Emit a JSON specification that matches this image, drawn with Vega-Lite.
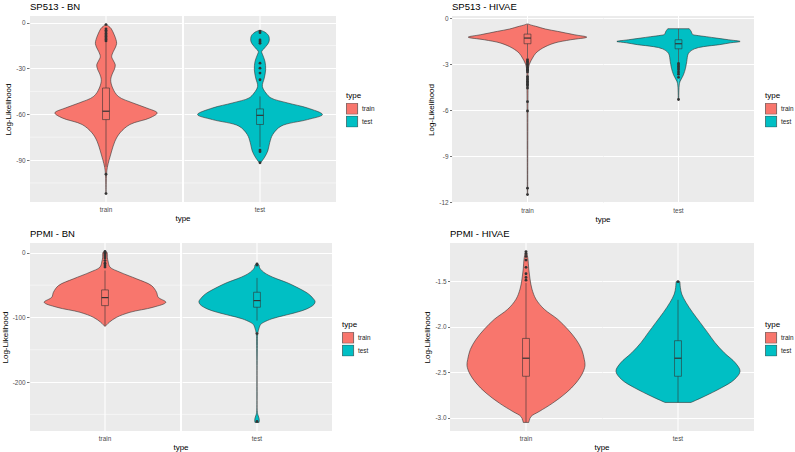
{
"$schema": "https://vega.github.io/schema/vega-lite/v6.json",
"padding": {"left": 1, "top": 1, "right": 2, "bottom": 2},
"background": "white",
"config": {
  "font": "Liberation Sans",
  "view": {"fill": "#EBEBEB", "stroke": null},
  "locale": {"number": {"decimal": ".", "thousands": ",", "grouping": [3], "currency": ["$", ""], "minus": "-"}},
  "axis": {"labelFont": "Liberation Sans", "labelFontSize": 6.4, "labelColor": "#4D4D4D", "labelOverlap": false, "domain": false, "tickSize": 2.5, "tickWidth": 0.7, "tickColor": "#333333", "gridColor": "#FFFFFF", "labelPadding": 1.5, "titleFont": "Liberation Sans", "titleFontSize": 8, "titleFontWeight": "normal", "titleColor": "#000000", "titlePadding": 3},
  "header": {"labelFont": "Liberation Sans", "labelFontSize": 6.4, "labelColor": "#4D4D4D", "labelPadding": 4, "titleFont": "Liberation Sans", "titleFontSize": 8, "titleFontWeight": "normal", "titleColor": "#000000", "titlePadding": -9},
  "legend": {"titleFont": "Liberation Sans", "titleFontSize": 8, "titleFontWeight": "normal", "titleColor": "#000000", "labelFont": "Liberation Sans", "labelFontSize": 6.4, "labelColor": "#1A1A1A", "symbolType": "square", "symbolSize": 125, "symbolStrokeColor": "#333333", "symbolStrokeWidth": 0.6, "symbolOpacity": 1, "clipHeight": 11.5, "rowPadding": 0.8, "labelOffset": 4, "titlePadding": 3},
  "title": {"font": "Liberation Sans", "fontSize": 9.5, "fontWeight": "normal", "anchor": "start", "frame": "group", "offset": 0, "color": "#000000"}
},
"datasets": {"d": [
{"p":"P1","k":"v","type":"train","ll":-1.1,"w":0.002},{"p":"P1","k":"v","type":"train","ll":-2.5,"w":0.022},{"p":"P1","k":"v","type":"train","ll":-3.7,"w":0.036},{"p":"P1","k":"v","type":"train","ll":-6,"w":0.05},{"p":"P1","k":"v","type":"train","ll":-8,"w":0.06},{"p":"P1","k":"v","type":"train","ll":-11,"w":0.072},{"p":"P1","k":"v","type":"train","ll":-13.5,"w":0.077},{"p":"P1","k":"v","type":"train","ll":-16,"w":0.069},{"p":"P1","k":"v","type":"train","ll":-18.9,"w":0.053},{"p":"P1","k":"v","type":"train","ll":-22.2,"w":0.041},{"p":"P1","k":"v","type":"train","ll":-25,"w":0.054},{"p":"P1","k":"v","type":"train","ll":-27.6,"w":0.067},{"p":"P1","k":"v","type":"train","ll":-30.5,"w":0.061},{"p":"P1","k":"v","type":"train","ll":-33,"w":0.048},{"p":"P1","k":"v","type":"train","ll":-37.4,"w":0.034},{"p":"P1","k":"v","type":"train","ll":-42.8,"w":0.048},{"p":"P1","k":"v","type":"train","ll":-48.3,"w":0.089},{"p":"P1","k":"v","type":"train","ll":-52.6,"w":0.195},{"p":"P1","k":"v","type":"train","ll":-55.9,"w":0.294},{"p":"P1","k":"v","type":"train","ll":-59.1,"w":0.37},{"p":"P1","k":"v","type":"train","ll":-62.4,"w":0.317},{"p":"P1","k":"v","type":"train","ll":-66.7,"w":0.173},{"p":"P1","k":"v","type":"train","ll":-72.2,"w":0.101},{"p":"P1","k":"v","type":"train","ll":-77.6,"w":0.065},{"p":"P1","k":"v","type":"train","ll":-84.1,"w":0.041},{"p":"P1","k":"v","type":"train","ll":-89.5,"w":0.024},{"p":"P1","k":"v","type":"train","ll":-95,"w":0.009},{"p":"P1","k":"v","type":"train","ll":-99.3,"w":0.004},{"p":"P1","k":"v","type":"train","ll":-105,"w":0.002},{"p":"P1","k":"v","type":"train","ll":-112,"w":0.001},
{"p":"P1","k":"v","type":"test","ll":-5.2,"w":0.012},{"p":"P1","k":"v","type":"test","ll":-6,"w":0.032},{"p":"P1","k":"v","type":"test","ll":-7,"w":0.048},{"p":"P1","k":"v","type":"test","ll":-8.5,"w":0.062},{"p":"P1","k":"v","type":"test","ll":-10.2,"w":0.067},{"p":"P1","k":"v","type":"test","ll":-12.5,"w":0.065},{"p":"P1","k":"v","type":"test","ll":-14.6,"w":0.051},{"p":"P1","k":"v","type":"test","ll":-17,"w":0.029},{"p":"P1","k":"v","type":"test","ll":-18.9,"w":0.012},{"p":"P1","k":"v","type":"test","ll":-21,"w":0.019},{"p":"P1","k":"v","type":"test","ll":-25.4,"w":0.036},{"p":"P1","k":"v","type":"test","ll":-30.8,"w":0.041},{"p":"P1","k":"v","type":"test","ll":-36.3,"w":0.031},{"p":"P1","k":"v","type":"test","ll":-41.7,"w":0.017},{"p":"P1","k":"v","type":"test","ll":-46.1,"w":0.043},{"p":"P1","k":"v","type":"test","ll":-49.3,"w":0.079},{"p":"P1","k":"v","type":"test","ll":-52.6,"w":0.2},{"p":"P1","k":"v","type":"test","ll":-55.9,"w":0.344},{"p":"P1","k":"v","type":"test","ll":-60.2,"w":0.452},{"p":"P1","k":"v","type":"test","ll":-63.5,"w":0.344},{"p":"P1","k":"v","type":"test","ll":-67.8,"w":0.152},{"p":"P1","k":"v","type":"test","ll":-73.3,"w":0.092},{"p":"P1","k":"v","type":"test","ll":-78.7,"w":0.07},{"p":"P1","k":"v","type":"test","ll":-84.1,"w":0.056},{"p":"P1","k":"v","type":"test","ll":-88.5,"w":0.031},{"p":"P1","k":"v","type":"test","ll":-91.8,"w":0.004},
{"p":"P1","k":"b","type":"train","q1":-63.5,"med":-58,"q3":-42.8,"lo":-94.5,"hi":-13},
{"p":"P1","k":"b","type":"test","q1":-66.7,"med":-60.7,"q3":-56.5,"lo":-81.5,"hi":-48.3},
{"p":"P1","k":"o","type":"train","ll":-1.2},{"p":"P1","k":"o","type":"train","ll":-4},{"p":"P1","k":"o","type":"train","ll":-5},{"p":"P1","k":"o","type":"train","ll":-6},{"p":"P1","k":"o","type":"train","ll":-7},{"p":"P1","k":"o","type":"train","ll":-8},{"p":"P1","k":"o","type":"train","ll":-9},{"p":"P1","k":"o","type":"train","ll":-10},{"p":"P1","k":"o","type":"train","ll":-11},{"p":"P1","k":"o","type":"train","ll":-12},{"p":"P1","k":"o","type":"train","ll":-99.3},{"p":"P1","k":"o","type":"train","ll":-112},
{"p":"P1","k":"o","type":"test","ll":-5.5},{"p":"P1","k":"o","type":"test","ll":-6.5},{"p":"P1","k":"o","type":"test","ll":-11.3},{"p":"P1","k":"o","type":"test","ll":-12.5},{"p":"P1","k":"o","type":"test","ll":-13.5},{"p":"P1","k":"o","type":"test","ll":-26.5},{"p":"P1","k":"o","type":"test","ll":-29.8},{"p":"P1","k":"o","type":"test","ll":-33},{"p":"P1","k":"o","type":"test","ll":-37.4},{"p":"P1","k":"o","type":"test","ll":-83.5},{"p":"P1","k":"o","type":"test","ll":-84.5},{"p":"P1","k":"o","type":"test","ll":-91.8},

{"p":"P2","k":"v","type":"train","ll":-0.37,"w":0.004},{"p":"P2","k":"v","type":"train","ll":-0.45,"w":0.029},{"p":"P2","k":"v","type":"train","ll":-0.52,"w":0.06},{"p":"P2","k":"v","type":"train","ll":-0.7,"w":0.131},{"p":"P2","k":"v","type":"train","ll":-0.85,"w":0.218},{"p":"P2","k":"v","type":"train","ll":-1.07,"w":0.34},{"p":"P2","k":"v","type":"train","ll":-1.23,"w":0.432},{"p":"P2","k":"v","type":"train","ll":-1.4,"w":0.315},{"p":"P2","k":"v","type":"train","ll":-1.62,"w":0.194},{"p":"P2","k":"v","type":"train","ll":-1.95,"w":0.109},{"p":"P2","k":"v","type":"train","ll":-2.28,"w":0.06},{"p":"P2","k":"v","type":"train","ll":-2.6,"w":0.036},{"p":"P2","k":"v","type":"train","ll":-2.93,"w":0.017},{"p":"P2","k":"v","type":"train","ll":-3.26,"w":0.007},{"p":"P2","k":"v","type":"train","ll":-4.57,"w":0.004},{"p":"P2","k":"v","type":"train","ll":-11.52,"w":0.0015},
{"p":"P2","k":"v","type":"test","ll":-0.68,"w":0.078},{"p":"P2","k":"v","type":"test","ll":-0.85,"w":0.092},{"p":"P2","k":"v","type":"test","ll":-1.05,"w":0.102},{"p":"P2","k":"v","type":"test","ll":-1.11,"w":0.129},{"p":"P2","k":"v","type":"test","ll":-1.2,"w":0.204},{"p":"P2","k":"v","type":"test","ll":-1.29,"w":0.275},{"p":"P2","k":"v","type":"test","ll":-1.4,"w":0.364},{"p":"P2","k":"v","type":"test","ll":-1.51,"w":0.449},{"p":"P2","k":"v","type":"test","ll":-1.6,"w":0.379},{"p":"P2","k":"v","type":"test","ll":-1.72,"w":0.299},{"p":"P2","k":"v","type":"test","ll":-1.85,"w":0.182},{"p":"P2","k":"v","type":"test","ll":-1.99,"w":0.117},{"p":"P2","k":"v","type":"test","ll":-2.28,"w":0.073},{"p":"P2","k":"v","type":"test","ll":-2.82,"w":0.06},{"p":"P2","k":"v","type":"test","ll":-3.26,"w":0.051},{"p":"P2","k":"v","type":"test","ll":-3.69,"w":0.036},{"p":"P2","k":"v","type":"test","ll":-4.02,"w":0.017},{"p":"P2","k":"v","type":"test","ll":-4.24,"w":0.007},{"p":"P2","k":"v","type":"test","ll":-5.33,"w":0.002},
{"p":"P2","k":"b","type":"train","q1":-1.66,"med":-1.29,"q3":-1.03,"lo":-2.6,"hi":-0.4},
{"p":"P2","k":"b","type":"test","q1":-1.99,"med":-1.66,"q3":-1.4,"lo":-2.85,"hi":-0.68},
{"p":"P2","k":"o","type":"train","ll":-2.7},{"p":"P2","k":"o","type":"train","ll":-2.8},{"p":"P2","k":"o","type":"train","ll":-2.9},{"p":"P2","k":"o","type":"train","ll":-3.0},{"p":"P2","k":"o","type":"train","ll":-3.1},{"p":"P2","k":"o","type":"train","ll":-3.2},{"p":"P2","k":"o","type":"train","ll":-3.3},{"p":"P2","k":"o","type":"train","ll":-3.35},{"p":"P2","k":"o","type":"train","ll":-3.4},{"p":"P2","k":"o","type":"train","ll":-3.5},{"p":"P2","k":"o","type":"train","ll":-3.8},{"p":"P2","k":"o","type":"train","ll":-3.9},{"p":"P2","k":"o","type":"train","ll":-4.0},{"p":"P2","k":"o","type":"train","ll":-4.1},{"p":"P2","k":"o","type":"train","ll":-4.2},{"p":"P2","k":"o","type":"train","ll":-4.3},{"p":"P2","k":"o","type":"train","ll":-4.4},{"p":"P2","k":"o","type":"train","ll":-4.55},{"p":"P2","k":"o","type":"train","ll":-5.44},{"p":"P2","k":"o","type":"train","ll":-6.05},{"p":"P2","k":"o","type":"train","ll":-11.08},{"p":"P2","k":"o","type":"train","ll":-11.5},
{"p":"P2","k":"o","type":"test","ll":-2.95},{"p":"P2","k":"o","type":"test","ll":-3.05},{"p":"P2","k":"o","type":"test","ll":-3.15},{"p":"P2","k":"o","type":"test","ll":-3.25},{"p":"P2","k":"o","type":"test","ll":-3.35},{"p":"P2","k":"o","type":"test","ll":-3.5},{"p":"P2","k":"o","type":"test","ll":-3.65},{"p":"P2","k":"o","type":"test","ll":-3.85},{"p":"P2","k":"o","type":"test","ll":-5.3},

{"p":"P3","k":"v","type":"train","ll":2,"w":0.007},{"p":"P3","k":"v","type":"train","ll":0,"w":0.016},{"p":"P3","k":"v","type":"train","ll":-6.7,"w":0.017},{"p":"P3","k":"v","type":"train","ll":-14.5,"w":0.024},{"p":"P3","k":"v","type":"train","ll":-22.2,"w":0.037},{"p":"P3","k":"v","type":"train","ll":-30,"w":0.11},{"p":"P3","k":"v","type":"train","ll":-40.3,"w":0.232},{"p":"P3","k":"v","type":"train","ll":-50.7,"w":0.341},{"p":"P3","k":"v","type":"train","ll":-61,"w":0.378},{"p":"P3","k":"v","type":"train","ll":-68.7,"w":0.39},{"p":"P3","k":"v","type":"train","ll":-76.5,"w":0.446},{"p":"P3","k":"v","type":"train","ll":-84.2,"w":0.353},{"p":"P3","k":"v","type":"train","ll":-92,"w":0.183},{"p":"P3","k":"v","type":"train","ll":-99.7,"w":0.086},{"p":"P3","k":"v","type":"train","ll":-107.5,"w":0.031},{"p":"P3","k":"v","type":"train","ll":-113.7,"w":0.002},
{"p":"P3","k":"v","type":"test","ll":-17,"w":0.004},{"p":"P3","k":"v","type":"test","ll":-19,"w":0.015},{"p":"P3","k":"v","type":"test","ll":-22.2,"w":0.017},{"p":"P3","k":"v","type":"test","ll":-26,"w":0.029},{"p":"P3","k":"v","type":"test","ll":-30,"w":0.049},{"p":"P3","k":"v","type":"test","ll":-35,"w":0.088},{"p":"P3","k":"v","type":"test","ll":-40.3,"w":0.146},{"p":"P3","k":"v","type":"test","ll":-46,"w":0.219},{"p":"P3","k":"v","type":"test","ll":-53.3,"w":0.292},{"p":"P3","k":"v","type":"test","ll":-63.6,"w":0.378},{"p":"P3","k":"v","type":"test","ll":-70,"w":0.409},{"p":"P3","k":"v","type":"test","ll":-75.5,"w":0.426},{"p":"P3","k":"v","type":"test","ll":-80,"w":0.417},{"p":"P3","k":"v","type":"test","ll":-86.8,"w":0.365},{"p":"P3","k":"v","type":"test","ll":-92,"w":0.292},{"p":"P3","k":"v","type":"test","ll":-97.2,"w":0.195},{"p":"P3","k":"v","type":"test","ll":-102,"w":0.11},{"p":"P3","k":"v","type":"test","ll":-107.5,"w":0.049},{"p":"P3","k":"v","type":"test","ll":-111,"w":0.026},{"p":"P3","k":"v","type":"test","ll":-115.2,"w":0.017},{"p":"P3","k":"v","type":"test","ll":-120,"w":0.01},{"p":"P3","k":"v","type":"test","ll":-125.6,"w":0.005},{"p":"P3","k":"v","type":"test","ll":-143.7,"w":0.003},{"p":"P3","k":"v","type":"test","ll":-247,"w":0.003},{"p":"P3","k":"v","type":"test","ll":-252,"w":0.009},{"p":"P3","k":"v","type":"test","ll":-256,"w":0.015},{"p":"P3","k":"v","type":"test","ll":-260,"w":0.017},{"p":"P3","k":"v","type":"test","ll":-262.5,"w":0.015},
{"p":"P3","k":"b","type":"train","q1":-81.7,"med":-69.3,"q3":-57.4,"lo":-113,"hi":-27.4},
{"p":"P3","k":"b","type":"test","q1":-84.2,"med":-73.9,"q3":-61,"lo":-104.9,"hi":-38.8},
{"p":"P3","k":"o","type":"train","ll":2},{"p":"P3","k":"o","type":"train","ll":0.5},{"p":"P3","k":"o","type":"train","ll":-1},{"p":"P3","k":"o","type":"train","ll":-3},{"p":"P3","k":"o","type":"train","ll":-5},{"p":"P3","k":"o","type":"train","ll":-8},{"p":"P3","k":"o","type":"train","ll":-12},{"p":"P3","k":"o","type":"train","ll":-16},{"p":"P3","k":"o","type":"train","ll":-19},{"p":"P3","k":"o","type":"train","ll":-22},
{"p":"P3","k":"o","type":"test","ll":-17},{"p":"P3","k":"o","type":"test","ll":-19},{"p":"P3","k":"o","type":"test","ll":-125},{"p":"P3","k":"o","type":"test","ll":-261},

{"p":"P4","k":"v","type":"train","ll":-1.177,"w":0.004},{"p":"P4","k":"v","type":"train","ll":-1.257,"w":0.014},{"p":"P4","k":"v","type":"train","ll":-1.368,"w":0.02},{"p":"P4","k":"v","type":"train","ll":-1.478,"w":0.029},{"p":"P4","k":"v","type":"train","ll":-1.588,"w":0.043},{"p":"P4","k":"v","type":"train","ll":-1.699,"w":0.072},{"p":"P4","k":"v","type":"train","ll":-1.809,"w":0.132},{"p":"P4","k":"v","type":"train","ll":-1.919,"w":0.229},{"p":"P4","k":"v","type":"train","ll":-2.029,"w":0.302},{"p":"P4","k":"v","type":"train","ll":-2.14,"w":0.362},{"p":"P4","k":"v","type":"train","ll":-2.25,"w":0.403},{"p":"P4","k":"v","type":"train","ll":-2.36,"w":0.422},{"p":"P4","k":"v","type":"train","ll":-2.426,"w":0.427},{"p":"P4","k":"v","type":"train","ll":-2.507,"w":0.41},{"p":"P4","k":"v","type":"train","ll":-2.617,"w":0.362},{"p":"P4","k":"v","type":"train","ll":-2.728,"w":0.289},{"p":"P4","k":"v","type":"train","ll":-2.838,"w":0.193},{"p":"P4","k":"v","type":"train","ll":-2.93,"w":0.096},{"p":"P4","k":"v","type":"train","ll":-2.986,"w":0.036},{"p":"P4","k":"v","type":"train","ll":-3.05,"w":0.02},
{"p":"P4","k":"v","type":"test","ll":-1.507,"w":0.014},{"p":"P4","k":"v","type":"test","ll":-1.57,"w":0.017},{"p":"P4","k":"v","type":"test","ll":-1.643,"w":0.027},{"p":"P4","k":"v","type":"test","ll":-1.735,"w":0.058},{"p":"P4","k":"v","type":"test","ll":-1.845,"w":0.106},{"p":"P4","k":"v","type":"test","ll":-1.956,"w":0.161},{"p":"P4","k":"v","type":"test","ll":-2.066,"w":0.215},{"p":"P4","k":"v","type":"test","ll":-2.176,"w":0.268},{"p":"P4","k":"v","type":"test","ll":-2.287,"w":0.335},{"p":"P4","k":"v","type":"test","ll":-2.397,"w":0.415},{"p":"P4","k":"v","type":"test","ll":-2.489,"w":0.449},{"p":"P4","k":"v","type":"test","ll":-2.581,"w":0.407},{"p":"P4","k":"v","type":"test","ll":-2.673,"w":0.311},{"p":"P4","k":"v","type":"test","ll":-2.765,"w":0.19},{"p":"P4","k":"v","type":"test","ll":-2.831,"w":0.094},
{"p":"P4","k":"b","type":"train","q1":-2.544,"med":-2.346,"q3":-2.129,"lo":-3.05,"hi":-1.52},
{"p":"P4","k":"b","type":"test","q1":-2.544,"med":-2.346,"q3":-2.154,"lo":-2.831,"hi":-1.706},
{"p":"P4","k":"o","type":"train","ll":-1.177},{"p":"P4","k":"o","type":"train","ll":-1.2},{"p":"P4","k":"o","type":"train","ll":-1.23},{"p":"P4","k":"o","type":"train","ll":-1.27},{"p":"P4","k":"o","type":"train","ll":-1.35},{"p":"P4","k":"o","type":"train","ll":-1.42},{"p":"P4","k":"o","type":"train","ll":-1.46},{"p":"P4","k":"o","type":"train","ll":-1.49},
{"p":"P4","k":"o","type":"test","ll":-1.507}
]},
"spacing": 4,
"resolve": {"scale": {"y": "independent"}, "legend": {"fill": "independent"}},
"vconcat": [
{"hconcat": [
{"data": {"name": "d"}, "transform": [{"filter": "datum.p == 'P1'"}],
 "title": {"text": "SP513 - BN"},
 "facet": {"column": {"field": "type", "type": "nominal", "sort": ["train", "test"], "title": "type", "header": {"labelOrient": "bottom", "titleOrient": "bottom"}}},
 "spacing": {"column": 0},
 "spec": {"width": 152, "height": 186,
  "resolve": {"scale": {"x": "independent"}},
  "layer": [
   {"transform": [{"filter": "datum.k == 'b'"}], "mark": {"type": "rule", "stroke": "#FFFFFF", "strokeWidth": 1.1},
    "encoding": {"x": {"datum": 0, "type": "quantitative", "scale": {"domain": [-0.55, 0.55], "nice": false, "zero": false}, "axis": null}}},
   {"transform": [{"filter": "datum.k == 'b'"}], "mark": {"type": "rule", "stroke": "#FFFFFF", "strokeWidth": 0.5}, "encoding": {"y": {"datum": -105, "type": "quantitative", "title": "Log-Likelihood"}, "x": {"datum": -0.55, "type": "quantitative", "scale": {"domain": [-0.55, 0.55], "nice": false, "zero": false}, "axis": null}, "x2": {"datum": 0.55}}},
   {"transform": [{"filter": "datum.k == 'b'"}], "mark": {"type": "rule", "stroke": "#FFFFFF", "strokeWidth": 0.5}, "encoding": {"y": {"datum": -75, "type": "quantitative", "title": "Log-Likelihood"}, "x": {"datum": -0.55, "type": "quantitative", "scale": {"domain": [-0.55, 0.55], "nice": false, "zero": false}, "axis": null}, "x2": {"datum": 0.55}}},
   {"transform": [{"filter": "datum.k == 'b'"}], "mark": {"type": "rule", "stroke": "#FFFFFF", "strokeWidth": 0.5}, "encoding": {"y": {"datum": -45, "type": "quantitative", "title": "Log-Likelihood"}, "x": {"datum": -0.55, "type": "quantitative", "scale": {"domain": [-0.55, 0.55], "nice": false, "zero": false}, "axis": null}, "x2": {"datum": 0.55}}},
   {"transform": [{"filter": "datum.k == 'b'"}], "mark": {"type": "rule", "stroke": "#FFFFFF", "strokeWidth": 0.5}, "encoding": {"y": {"datum": -15, "type": "quantitative", "title": "Log-Likelihood"}, "x": {"datum": -0.55, "type": "quantitative", "scale": {"domain": [-0.55, 0.55], "nice": false, "zero": false}, "axis": null}, "x2": {"datum": 0.55}}},
   {"transform": [{"filter": "datum.k == 'v'"}], "mark": {"type": "area", "orient": "horizontal", "interpolate": "catmull-rom"},
    "encoding": {"y": {"field": "ll", "type": "quantitative", "title": "Log-Likelihood", "scale": {"domain": [-117.5, 4.4], "nice": false, "zero": false},
      "axis": {"values": [-90, -60, -30, 0], "format": "d", "grid": true, "gridWidth": 1.1}},
     "x": {"field": "w", "type": "quantitative", "scale": {"domain": [-0.55, 0.55], "nice": false, "zero": false}, "axis": null},
     "x2": {"datum": 0},
     "fill": {"field": "type", "type": "nominal", "title": "type", "scale": {"domain": ["train", "test"], "range": ["#F8766D", "#00BFC4"]}, "legend": {"orient": "none", "legendX": 316, "legendY": 76}}}},
   {"transform": [{"filter": "datum.k == 'v'"}], "mark": {"type": "area", "orient": "horizontal", "interpolate": "catmull-rom"},
    "encoding": {"y": {"field": "ll", "type": "quantitative", "title": "Log-Likelihood"},
     "x": {"field": "w", "type": "quantitative", "scale": {"domain": [-0.55, 0.55], "nice": false, "zero": false, "reverse": true}, "axis": null},
     "x2": {"datum": 0},
     "fill": {"field": "type", "type": "nominal", "title": "type"}}},
   {"transform": [{"filter": "datum.k == 'v'"}], "mark": {"type": "line", "interpolate": "catmull-rom", "stroke": "#333333", "strokeWidth": 0.6},
    "encoding": {"y": {"field": "ll", "type": "quantitative", "title": "Log-Likelihood"},
     "x": {"field": "w", "type": "quantitative", "scale": {"domain": [-0.55, 0.55], "nice": false, "zero": false}, "axis": null},
     "order": {"field": "ll", "type": "quantitative"}}},
   {"transform": [{"filter": "datum.k == 'v'"}], "mark": {"type": "line", "interpolate": "catmull-rom", "stroke": "#333333", "strokeWidth": 0.6},
    "encoding": {"y": {"field": "ll", "type": "quantitative", "title": "Log-Likelihood"},
     "x": {"field": "w", "type": "quantitative", "scale": {"domain": [-0.55, 0.55], "nice": false, "zero": false, "reverse": true}, "axis": null},
     "order": {"field": "ll", "type": "quantitative"}}},
   {"transform": [{"filter": "datum.k == 'v'"}, {"joinaggregate": [{"op": "min", "field": "ll", "as": "mn"}, {"op": "max", "field": "ll", "as": "mx"}], "groupby": ["type"]}, {"filter": "datum.ll == datum.mn || datum.ll == datum.mx"}],
    "mark": {"type": "rule", "stroke": "#333333", "strokeWidth": 0.6},
    "encoding": {"y": {"field": "ll", "type": "quantitative", "title": "Log-Likelihood"},
     "x": {"field": "w", "type": "quantitative", "scale": {"domain": [-0.55, 0.55], "nice": false, "zero": false}, "axis": null}, "x2": {"datum": 0}}},
   {"transform": [{"filter": "datum.k == 'v'"}, {"joinaggregate": [{"op": "min", "field": "ll", "as": "mn"}, {"op": "max", "field": "ll", "as": "mx"}], "groupby": ["type"]}, {"filter": "datum.ll == datum.mn || datum.ll == datum.mx"}],
    "mark": {"type": "rule", "stroke": "#333333", "strokeWidth": 0.6},
    "encoding": {"y": {"field": "ll", "type": "quantitative", "title": "Log-Likelihood"},
     "x": {"field": "w", "type": "quantitative", "scale": {"domain": [-0.55, 0.55], "nice": false, "zero": false, "reverse": true}, "axis": null}, "x2": {"datum": 0}}},
   {"transform": [{"filter": "datum.k == 'b'"}], "mark": {"type": "rule", "stroke": "#333333", "strokeWidth": 0.6},
    "encoding": {"y": {"field": "lo", "type": "quantitative", "title": "Log-Likelihood"}, "y2": {"field": "hi"},
     "x": {"datum": 0, "type": "quantitative", "scale": {"domain": [-0.55, 0.55], "nice": false, "zero": false}, "axis": null}}},
   {"transform": [{"filter": "datum.k == 'b'"}], "mark": {"type": "rect", "stroke": "#333333", "strokeWidth": 0.6},
    "encoding": {"y": {"field": "q1", "type": "quantitative", "title": "Log-Likelihood"}, "y2": {"field": "q3"},
     "x": {"datum": -0.025, "type": "quantitative", "scale": {"domain": [-0.55, 0.55], "nice": false, "zero": false}, "axis": null}, "x2": {"datum": 0.025},
     "fill": {"field": "type", "type": "nominal", "title": "type"}}},
   {"transform": [{"filter": "datum.k == 'b'"}], "mark": {"type": "rule", "stroke": "#333333", "strokeWidth": 1.2},
    "encoding": {"y": {"field": "med", "type": "quantitative", "title": "Log-Likelihood"},
     "x": {"datum": -0.025, "type": "quantitative", "scale": {"domain": [-0.55, 0.55], "nice": false, "zero": false}, "axis": null}, "x2": {"datum": 0.025}}},
   {"transform": [{"filter": "datum.k == 'o'"}], "mark": {"type": "circle", "size": 8, "color": "#333333", "opacity": 1},
    "encoding": {"y": {"field": "ll", "type": "quantitative", "title": "Log-Likelihood"},
     "x": {"datum": 0, "type": "quantitative", "scale": {"domain": [-0.55, 0.55], "nice": false, "zero": false}, "axis": null}}}
  ]}},
{"data": {"name": "d"}, "transform": [{"filter": "datum.p == 'P2'"}],
 "title": {"text": "SP513 - HIVAE"},
 "facet": {"column": {"field": "type", "type": "nominal", "sort": ["train", "test"], "title": "type", "header": {"labelOrient": "bottom", "titleOrient": "bottom"}}},
 "spacing": {"column": 0},
 "spec": {"width": 151, "height": 187,
  "resolve": {"scale": {"x": "independent"}},
  "layer": [
   {"transform": [{"filter": "datum.k == 'b'"}], "mark": {"type": "rule", "stroke": "#FFFFFF", "strokeWidth": 1.1},
    "encoding": {"x": {"datum": 0, "type": "quantitative", "scale": {"domain": [-0.55, 0.55], "nice": false, "zero": false}, "axis": null}}},
   {"transform": [{"filter": "datum.k == 'v'"}], "mark": {"type": "area", "orient": "horizontal", "interpolate": "catmull-rom"},
    "encoding": {"y": {"field": "ll", "type": "quantitative", "title": "Log-Likelihood", "scale": {"domain": [-12.05, 0.15], "nice": false, "zero": false},
      "axis": {"values": [-12, -10.5, -9, -7.5, -6, -4.5, -3, -1.5, 0], "grid": true, "labelExpr": "indexof([0, -3, -6, -9, -12], datum.value) >= 0 ? format(datum.value, 'd') : ''", "gridWidth": {"condition": {"test": "indexof([0, -3, -6, -9, -12], datum.value) >= 0", "value": 1.1}, "value": 0.5}, "tickOpacity": {"condition": {"test": "indexof([0, -3, -6, -9, -12], datum.value) >= 0", "value": 1}, "value": 0}}},
     "x": {"field": "w", "type": "quantitative", "scale": {"domain": [-0.55, 0.55], "nice": false, "zero": false}, "axis": null},
     "x2": {"datum": 0},
     "fill": {"field": "type", "type": "nominal", "title": "type", "scale": {"domain": ["train", "test"], "range": ["#F8766D", "#00BFC4"]}, "legend": {"orient": "none", "legendX": 313, "legendY": 76}}}},
   {"transform": [{"filter": "datum.k == 'v'"}], "mark": {"type": "area", "orient": "horizontal", "interpolate": "catmull-rom"},
    "encoding": {"y": {"field": "ll", "type": "quantitative", "title": "Log-Likelihood"},
     "x": {"field": "w", "type": "quantitative", "scale": {"domain": [-0.55, 0.55], "nice": false, "zero": false, "reverse": true}, "axis": null},
     "x2": {"datum": 0},
     "fill": {"field": "type", "type": "nominal", "title": "type"}}},
   {"transform": [{"filter": "datum.k == 'v'"}], "mark": {"type": "line", "interpolate": "catmull-rom", "stroke": "#333333", "strokeWidth": 0.6},
    "encoding": {"y": {"field": "ll", "type": "quantitative", "title": "Log-Likelihood"},
     "x": {"field": "w", "type": "quantitative", "scale": {"domain": [-0.55, 0.55], "nice": false, "zero": false}, "axis": null},
     "order": {"field": "ll", "type": "quantitative"}}},
   {"transform": [{"filter": "datum.k == 'v'"}], "mark": {"type": "line", "interpolate": "catmull-rom", "stroke": "#333333", "strokeWidth": 0.6},
    "encoding": {"y": {"field": "ll", "type": "quantitative", "title": "Log-Likelihood"},
     "x": {"field": "w", "type": "quantitative", "scale": {"domain": [-0.55, 0.55], "nice": false, "zero": false, "reverse": true}, "axis": null},
     "order": {"field": "ll", "type": "quantitative"}}},
   {"transform": [{"filter": "datum.k == 'v'"}, {"joinaggregate": [{"op": "min", "field": "ll", "as": "mn"}, {"op": "max", "field": "ll", "as": "mx"}], "groupby": ["type"]}, {"filter": "datum.ll == datum.mn || datum.ll == datum.mx"}],
    "mark": {"type": "rule", "stroke": "#333333", "strokeWidth": 0.6},
    "encoding": {"y": {"field": "ll", "type": "quantitative", "title": "Log-Likelihood"},
     "x": {"field": "w", "type": "quantitative", "scale": {"domain": [-0.55, 0.55], "nice": false, "zero": false}, "axis": null}, "x2": {"datum": 0}}},
   {"transform": [{"filter": "datum.k == 'v'"}, {"joinaggregate": [{"op": "min", "field": "ll", "as": "mn"}, {"op": "max", "field": "ll", "as": "mx"}], "groupby": ["type"]}, {"filter": "datum.ll == datum.mn || datum.ll == datum.mx"}],
    "mark": {"type": "rule", "stroke": "#333333", "strokeWidth": 0.6},
    "encoding": {"y": {"field": "ll", "type": "quantitative", "title": "Log-Likelihood"},
     "x": {"field": "w", "type": "quantitative", "scale": {"domain": [-0.55, 0.55], "nice": false, "zero": false, "reverse": true}, "axis": null}, "x2": {"datum": 0}}},
   {"transform": [{"filter": "datum.k == 'b'"}], "mark": {"type": "rule", "stroke": "#333333", "strokeWidth": 0.6},
    "encoding": {"y": {"field": "lo", "type": "quantitative", "title": "Log-Likelihood"}, "y2": {"field": "hi"},
     "x": {"datum": 0, "type": "quantitative", "scale": {"domain": [-0.55, 0.55], "nice": false, "zero": false}, "axis": null}}},
   {"transform": [{"filter": "datum.k == 'b'"}], "mark": {"type": "rect", "stroke": "#333333", "strokeWidth": 0.6},
    "encoding": {"y": {"field": "q1", "type": "quantitative", "title": "Log-Likelihood"}, "y2": {"field": "q3"},
     "x": {"datum": -0.025, "type": "quantitative", "scale": {"domain": [-0.55, 0.55], "nice": false, "zero": false}, "axis": null}, "x2": {"datum": 0.025},
     "fill": {"field": "type", "type": "nominal", "title": "type"}}},
   {"transform": [{"filter": "datum.k == 'b'"}], "mark": {"type": "rule", "stroke": "#333333", "strokeWidth": 1.2},
    "encoding": {"y": {"field": "med", "type": "quantitative", "title": "Log-Likelihood"},
     "x": {"datum": -0.025, "type": "quantitative", "scale": {"domain": [-0.55, 0.55], "nice": false, "zero": false}, "axis": null}, "x2": {"datum": 0.025}}},
   {"transform": [{"filter": "datum.k == 'o'"}], "mark": {"type": "circle", "size": 8, "color": "#333333", "opacity": 1},
    "encoding": {"y": {"field": "ll", "type": "quantitative", "title": "Log-Likelihood"},
     "x": {"datum": 0, "type": "quantitative", "scale": {"domain": [-0.55, 0.55], "nice": false, "zero": false}, "axis": null}}}
  ]}}
], "spacing": 52, "resolve": {"scale": {"y": "independent"}, "legend": {"fill": "independent"}}},
{"hconcat": [
{"data": {"name": "d"}, "transform": [{"filter": "datum.p == 'P3'"}],
 "title": {"text": "PPMI - BN"},
 "facet": {"column": {"field": "type", "type": "nominal", "sort": ["train", "test"], "title": "type", "header": {"labelOrient": "bottom", "titleOrient": "bottom"}}},
 "spacing": {"column": 0},
 "spec": {"width": 150, "height": 188,
  "resolve": {"scale": {"x": "independent"}},
  "layer": [
   {"transform": [{"filter": "datum.k == 'b'"}], "mark": {"type": "rule", "stroke": "#FFFFFF", "strokeWidth": 1.1},
    "encoding": {"x": {"datum": 0, "type": "quantitative", "scale": {"domain": [-0.55, 0.55], "nice": false, "zero": false}, "axis": null}}},
   {"transform": [{"filter": "datum.k == 'b'"}], "mark": {"type": "rule", "stroke": "#FFFFFF", "strokeWidth": 0.5}, "encoding": {"y": {"datum": -250, "type": "quantitative", "title": "Log-Likelihood"}, "x": {"datum": -0.55, "type": "quantitative", "scale": {"domain": [-0.55, 0.55], "nice": false, "zero": false}, "axis": null}, "x2": {"datum": 0.55}}},
   {"transform": [{"filter": "datum.k == 'b'"}], "mark": {"type": "rule", "stroke": "#FFFFFF", "strokeWidth": 0.5}, "encoding": {"y": {"datum": -150, "type": "quantitative", "title": "Log-Likelihood"}, "x": {"datum": -0.55, "type": "quantitative", "scale": {"domain": [-0.55, 0.55], "nice": false, "zero": false}, "axis": null}, "x2": {"datum": 0.55}}},
   {"transform": [{"filter": "datum.k == 'b'"}], "mark": {"type": "rule", "stroke": "#FFFFFF", "strokeWidth": 0.5}, "encoding": {"y": {"datum": -50, "type": "quantitative", "title": "Log-Likelihood"}, "x": {"datum": -0.55, "type": "quantitative", "scale": {"domain": [-0.55, 0.55], "nice": false, "zero": false}, "axis": null}, "x2": {"datum": 0.55}}},
   {"transform": [{"filter": "datum.k == 'v'"}], "mark": {"type": "area", "orient": "horizontal", "interpolate": "catmull-rom"},
    "encoding": {"y": {"field": "ll", "type": "quantitative", "title": "Log-Likelihood", "scale": {"domain": [-275.7, 15.2], "nice": false, "zero": false},
      "axis": {"values": [-200, -100, 0], "format": "d", "grid": true, "gridWidth": 1.1}},
     "x": {"field": "w", "type": "quantitative", "scale": {"domain": [-0.55, 0.55], "nice": false, "zero": false}, "axis": null},
     "x2": {"datum": 0},
     "fill": {"field": "type", "type": "nominal", "title": "type", "scale": {"domain": ["train", "test"], "range": ["#F8766D", "#00BFC4"]}, "legend": {"orient": "none", "legendX": 312, "legendY": 78}}}},
   {"transform": [{"filter": "datum.k == 'v'"}], "mark": {"type": "area", "orient": "horizontal", "interpolate": "catmull-rom"},
    "encoding": {"y": {"field": "ll", "type": "quantitative", "title": "Log-Likelihood"},
     "x": {"field": "w", "type": "quantitative", "scale": {"domain": [-0.55, 0.55], "nice": false, "zero": false, "reverse": true}, "axis": null},
     "x2": {"datum": 0},
     "fill": {"field": "type", "type": "nominal", "title": "type"}}},
   {"transform": [{"filter": "datum.k == 'v'"}], "mark": {"type": "line", "interpolate": "catmull-rom", "stroke": "#333333", "strokeWidth": 0.6},
    "encoding": {"y": {"field": "ll", "type": "quantitative", "title": "Log-Likelihood"},
     "x": {"field": "w", "type": "quantitative", "scale": {"domain": [-0.55, 0.55], "nice": false, "zero": false}, "axis": null},
     "order": {"field": "ll", "type": "quantitative"}}},
   {"transform": [{"filter": "datum.k == 'v'"}], "mark": {"type": "line", "interpolate": "catmull-rom", "stroke": "#333333", "strokeWidth": 0.6},
    "encoding": {"y": {"field": "ll", "type": "quantitative", "title": "Log-Likelihood"},
     "x": {"field": "w", "type": "quantitative", "scale": {"domain": [-0.55, 0.55], "nice": false, "zero": false, "reverse": true}, "axis": null},
     "order": {"field": "ll", "type": "quantitative"}}},
   {"transform": [{"filter": "datum.k == 'v'"}, {"joinaggregate": [{"op": "min", "field": "ll", "as": "mn"}, {"op": "max", "field": "ll", "as": "mx"}], "groupby": ["type"]}, {"filter": "datum.ll == datum.mn || datum.ll == datum.mx"}],
    "mark": {"type": "rule", "stroke": "#333333", "strokeWidth": 0.6},
    "encoding": {"y": {"field": "ll", "type": "quantitative", "title": "Log-Likelihood"},
     "x": {"field": "w", "type": "quantitative", "scale": {"domain": [-0.55, 0.55], "nice": false, "zero": false}, "axis": null}, "x2": {"datum": 0}}},
   {"transform": [{"filter": "datum.k == 'v'"}, {"joinaggregate": [{"op": "min", "field": "ll", "as": "mn"}, {"op": "max", "field": "ll", "as": "mx"}], "groupby": ["type"]}, {"filter": "datum.ll == datum.mn || datum.ll == datum.mx"}],
    "mark": {"type": "rule", "stroke": "#333333", "strokeWidth": 0.6},
    "encoding": {"y": {"field": "ll", "type": "quantitative", "title": "Log-Likelihood"},
     "x": {"field": "w", "type": "quantitative", "scale": {"domain": [-0.55, 0.55], "nice": false, "zero": false, "reverse": true}, "axis": null}, "x2": {"datum": 0}}},
   {"transform": [{"filter": "datum.k == 'b'"}], "mark": {"type": "rule", "stroke": "#333333", "strokeWidth": 0.6},
    "encoding": {"y": {"field": "lo", "type": "quantitative", "title": "Log-Likelihood"}, "y2": {"field": "hi"},
     "x": {"datum": 0, "type": "quantitative", "scale": {"domain": [-0.55, 0.55], "nice": false, "zero": false}, "axis": null}}},
   {"transform": [{"filter": "datum.k == 'b'"}], "mark": {"type": "rect", "stroke": "#333333", "strokeWidth": 0.6},
    "encoding": {"y": {"field": "q1", "type": "quantitative", "title": "Log-Likelihood"}, "y2": {"field": "q3"},
     "x": {"datum": -0.025, "type": "quantitative", "scale": {"domain": [-0.55, 0.55], "nice": false, "zero": false}, "axis": null}, "x2": {"datum": 0.025},
     "fill": {"field": "type", "type": "nominal", "title": "type"}}},
   {"transform": [{"filter": "datum.k == 'b'"}], "mark": {"type": "rule", "stroke": "#333333", "strokeWidth": 1.2},
    "encoding": {"y": {"field": "med", "type": "quantitative", "title": "Log-Likelihood"},
     "x": {"datum": -0.025, "type": "quantitative", "scale": {"domain": [-0.55, 0.55], "nice": false, "zero": false}, "axis": null}, "x2": {"datum": 0.025}}},
   {"transform": [{"filter": "datum.k == 'o'"}], "mark": {"type": "circle", "size": 8, "color": "#333333", "opacity": 1},
    "encoding": {"y": {"field": "ll", "type": "quantitative", "title": "Log-Likelihood"},
     "x": {"datum": 0, "type": "quantitative", "scale": {"domain": [-0.55, 0.55], "nice": false, "zero": false}, "axis": null}}}
  ]}},
{"data": {"name": "d"}, "transform": [{"filter": "datum.p == 'P4'"}],
 "title": {"text": "PPMI - HIVAE"},
 "facet": {"column": {"field": "type", "type": "nominal", "sort": ["train", "test"], "title": "type", "header": {"labelOrient": "bottom", "titleOrient": "bottom"}}},
 "spacing": {"column": 0},
 "spec": {"width": 152, "height": 188,
  "resolve": {"scale": {"x": "independent"}},
  "layer": [
   {"transform": [{"filter": "datum.k == 'b'"}], "mark": {"type": "rule", "stroke": "#FFFFFF", "strokeWidth": 1.1},
    "encoding": {"x": {"datum": 0, "type": "quantitative", "scale": {"domain": [-0.55, 0.55], "nice": false, "zero": false}, "axis": null}}},
   {"transform": [{"filter": "datum.k == 'v'"}], "mark": {"type": "area", "orient": "horizontal", "interpolate": "catmull-rom"},
    "encoding": {"y": {"field": "ll", "type": "quantitative", "title": "Log-Likelihood", "scale": {"domain": [-3.144, -1.083], "nice": false, "zero": false},
      "axis": {"values": [-3, -2.75, -2.5, -2.25, -2, -1.75, -1.5, -1.25], "grid": true, "labelExpr": "indexof([-3, -2.5, -2, -1.5], datum.value) >= 0 ? format(datum.value, '.1f') : ''", "gridWidth": {"condition": {"test": "indexof([-3, -2.5, -2, -1.5], datum.value) >= 0", "value": 1.1}, "value": 0.5}, "tickOpacity": {"condition": {"test": "indexof([-3, -2.5, -2, -1.5], datum.value) >= 0", "value": 1}, "value": 0}}},
     "x": {"field": "w", "type": "quantitative", "scale": {"domain": [-0.55, 0.55], "nice": false, "zero": false}, "axis": null},
     "x2": {"datum": 0},
     "fill": {"field": "type", "type": "nominal", "title": "type", "scale": {"domain": ["train", "test"], "range": ["#F8766D", "#00BFC4"]}, "legend": {"orient": "none", "legendX": 315, "legendY": 78}}}},
   {"transform": [{"filter": "datum.k == 'v'"}], "mark": {"type": "area", "orient": "horizontal", "interpolate": "catmull-rom"},
    "encoding": {"y": {"field": "ll", "type": "quantitative", "title": "Log-Likelihood"},
     "x": {"field": "w", "type": "quantitative", "scale": {"domain": [-0.55, 0.55], "nice": false, "zero": false, "reverse": true}, "axis": null},
     "x2": {"datum": 0},
     "fill": {"field": "type", "type": "nominal", "title": "type"}}},
   {"transform": [{"filter": "datum.k == 'v'"}], "mark": {"type": "line", "interpolate": "catmull-rom", "stroke": "#333333", "strokeWidth": 0.6},
    "encoding": {"y": {"field": "ll", "type": "quantitative", "title": "Log-Likelihood"},
     "x": {"field": "w", "type": "quantitative", "scale": {"domain": [-0.55, 0.55], "nice": false, "zero": false}, "axis": null},
     "order": {"field": "ll", "type": "quantitative"}}},
   {"transform": [{"filter": "datum.k == 'v'"}], "mark": {"type": "line", "interpolate": "catmull-rom", "stroke": "#333333", "strokeWidth": 0.6},
    "encoding": {"y": {"field": "ll", "type": "quantitative", "title": "Log-Likelihood"},
     "x": {"field": "w", "type": "quantitative", "scale": {"domain": [-0.55, 0.55], "nice": false, "zero": false, "reverse": true}, "axis": null},
     "order": {"field": "ll", "type": "quantitative"}}},
   {"transform": [{"filter": "datum.k == 'v'"}, {"joinaggregate": [{"op": "min", "field": "ll", "as": "mn"}, {"op": "max", "field": "ll", "as": "mx"}], "groupby": ["type"]}, {"filter": "datum.ll == datum.mn || datum.ll == datum.mx"}],
    "mark": {"type": "rule", "stroke": "#333333", "strokeWidth": 0.6},
    "encoding": {"y": {"field": "ll", "type": "quantitative", "title": "Log-Likelihood"},
     "x": {"field": "w", "type": "quantitative", "scale": {"domain": [-0.55, 0.55], "nice": false, "zero": false}, "axis": null}, "x2": {"datum": 0}}},
   {"transform": [{"filter": "datum.k == 'v'"}, {"joinaggregate": [{"op": "min", "field": "ll", "as": "mn"}, {"op": "max", "field": "ll", "as": "mx"}], "groupby": ["type"]}, {"filter": "datum.ll == datum.mn || datum.ll == datum.mx"}],
    "mark": {"type": "rule", "stroke": "#333333", "strokeWidth": 0.6},
    "encoding": {"y": {"field": "ll", "type": "quantitative", "title": "Log-Likelihood"},
     "x": {"field": "w", "type": "quantitative", "scale": {"domain": [-0.55, 0.55], "nice": false, "zero": false, "reverse": true}, "axis": null}, "x2": {"datum": 0}}},
   {"transform": [{"filter": "datum.k == 'b'"}], "mark": {"type": "rule", "stroke": "#333333", "strokeWidth": 0.6},
    "encoding": {"y": {"field": "lo", "type": "quantitative", "title": "Log-Likelihood"}, "y2": {"field": "hi"},
     "x": {"datum": 0, "type": "quantitative", "scale": {"domain": [-0.55, 0.55], "nice": false, "zero": false}, "axis": null}}},
   {"transform": [{"filter": "datum.k == 'b'"}], "mark": {"type": "rect", "stroke": "#333333", "strokeWidth": 0.6},
    "encoding": {"y": {"field": "q1", "type": "quantitative", "title": "Log-Likelihood"}, "y2": {"field": "q3"},
     "x": {"datum": -0.025, "type": "quantitative", "scale": {"domain": [-0.55, 0.55], "nice": false, "zero": false}, "axis": null}, "x2": {"datum": 0.025},
     "fill": {"field": "type", "type": "nominal", "title": "type"}}},
   {"transform": [{"filter": "datum.k == 'b'"}], "mark": {"type": "rule", "stroke": "#333333", "strokeWidth": 1.2},
    "encoding": {"y": {"field": "med", "type": "quantitative", "title": "Log-Likelihood"},
     "x": {"datum": -0.025, "type": "quantitative", "scale": {"domain": [-0.55, 0.55], "nice": false, "zero": false}, "axis": null}, "x2": {"datum": 0.025}}},
   {"transform": [{"filter": "datum.k == 'o'"}], "mark": {"type": "circle", "size": 8, "color": "#333333", "opacity": 1},
    "encoding": {"y": {"field": "ll", "type": "quantitative", "title": "Log-Likelihood"},
     "x": {"datum": 0, "type": "quantitative", "scale": {"domain": [-0.55, 0.55], "nice": false, "zero": false}, "axis": null}}}
  ]}}
], "spacing": 52, "resolve": {"scale": {"y": "independent"}, "legend": {"fill": "independent"}}}
]
}
